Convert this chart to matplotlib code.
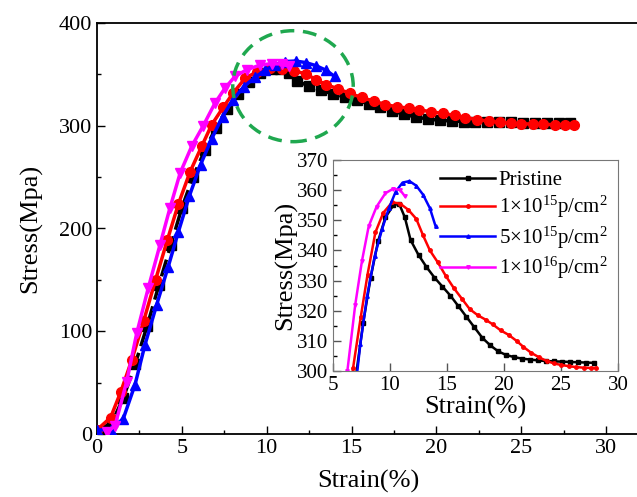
import numpy as np
import matplotlib
matplotlib.use("Agg")
import matplotlib.pyplot as plt
from matplotlib.patches import Ellipse
from matplotlib.ticker import MultipleLocator, AutoMinorLocator

plt.rcParams['font.family'] = ['Liberation Serif', 'DejaVu Serif']
plt.rcParams['mathtext.fontset'] = 'custom'
plt.rcParams['mathtext.rm'] = 'Liberation Serif'
plt.rcParams['mathtext.it'] = 'Liberation Serif:italic'

# stress-strain data (strain %, stress MPa)
pristine_x = [0.1, 0.9, 1.55, 2.25, 2.95, 3.65, 4.35, 5.0, 5.65, 6.35, 7.0, 7.65, 8.3,
              8.95, 9.6, 10.3, 10.8, 11.3, 11.8, 12.5, 13.2, 13.9, 14.6, 15.3, 16.0,
              16.7, 17.4, 18.1, 18.8, 19.5, 20.2, 20.9, 21.6, 22.3, 23.0, 23.7, 24.4,
              25.1, 25.8, 26.5, 27.2, 27.9]
pristine_y = [3, 12, 35, 68, 105, 145, 184, 220, 250, 276, 298, 316, 331,
              343, 351, 355, 355.5, 351, 343.5, 338.5, 334.5, 331, 328, 325, 321.5,
              318, 314.5, 311, 308.5, 306.5, 305.3, 304.6, 304.1, 303.8, 303.5, 303.3, 303.2,
              303.1, 303.0, 302.9, 302.8, 302.7]

d1e15_x = [0.0, 0.8, 1.4, 2.05, 2.75, 3.45, 4.15, 4.8, 5.48, 6.17, 6.76, 7.44, 8.03,
           8.72, 9.41, 10.2, 10.9, 11.6, 12.3, 12.9, 13.5, 14.2, 14.9, 15.6, 16.3,
           17.0, 17.7, 18.4, 19.0, 19.7, 20.4, 21.1, 21.7, 22.4, 23.1, 23.75, 24.4,
           25.0, 25.7, 26.3, 27.0, 27.6, 28.1]
d1e15_y = [4, 16, 41, 72, 110, 150, 189, 224, 255, 280, 301, 318, 332,
           346, 352.5, 356, 355.5, 353.5, 350.5, 345, 340, 336, 331.5, 327.5, 324,
           320.5, 318.5, 317, 315.5, 313.5, 312, 310, 308, 306, 304.5, 303.3, 302.5,
           302, 301.6, 301.3, 301.1, 301.0, 301.0]

d5e15_x = [0.0, 0.8, 1.55, 2.24, 2.83, 3.52, 4.2, 4.8, 5.45, 6.1, 6.75, 7.4, 8.0,
           8.65, 9.3, 9.9, 10.5, 11.1, 11.7, 12.3, 12.9, 13.5, 14.0]
d5e15_y = [4, 4, 15, 48, 87, 126, 163, 197, 232, 262, 287, 309, 325,
           338, 347, 354, 359.5, 362.5, 363, 361.5, 358.5, 354, 348]

d1e16_x = [0.6, 1.06, 1.75, 2.34, 3.02, 3.71, 4.3, 4.9, 5.58, 6.26, 6.95, 7.54, 8.13,
           8.82, 9.6, 10.3, 10.9, 11.3]
d1e16_y = [2, 8, 51, 98, 142, 184, 220, 254, 280, 300, 322, 336.5, 348,
           354.5, 359, 360.5, 360, 358]

labels = ['Pristine',
          r'1$\times$10$^{15}$p/cm$^{2}$',
          r'5$\times$10$^{15}$p/cm$^{2}$',
          r'1$\times$10$^{16}$p/cm$^{2}$']

series = [
    (pristine_x, pristine_y, 'black', 's', (0, (5, 2))),
    (d1e15_x, d1e15_y, 'red', 'o', '-'),
    (d5e15_x, d5e15_y, 'blue', '^', '-'),
    (d1e16_x, d1e16_y, 'magenta', 'v', '-'),
]


def style_ticks(ax, size):
    ax.tick_params(which='both', direction='in', labelsize=size)
    ax.tick_params(which='major', length=6, width=1)
    ax.tick_params(which='minor', length=3, width=1)


fig = plt.figure(figsize=(6.37, 4.97), dpi=100)

# main axes
ax = fig.add_axes([97/637, 63/497, 543/637, 411/497])
for x, y, c, m, ls in series:
    ax.plot(x, y, color=c, marker=m, linestyle=ls, linewidth=2.5,
            markersize=7.5 if m != 'o' else 7, zorder=3)

circle = Ellipse((11.55, 338.5), 7.1, 108, fill=False, edgecolor='#1fa84f',
                 linewidth=2.5, linestyle=(0, (4, 2.5)), zorder=5)
ax.add_patch(circle)

ax.set_xlim(0, 32)
ax.set_ylim(0, 400)
ax.xaxis.set_major_locator(MultipleLocator(5))
ax.xaxis.set_minor_locator(MultipleLocator(2.5))
ax.yaxis.set_major_locator(MultipleLocator(100))
ax.yaxis.set_minor_locator(MultipleLocator(50))
style_ticks(ax, 16)
ax.set_xlabel('Strain(%)', fontsize=19, labelpad=9)
ax.set_ylabel('Stress(Mpa)', fontsize=19, labelpad=12)
for s in ax.spines.values():
    s.set_linewidth(1.3)

# inset
axi = fig.add_axes([333/637, 126/497, 285/637, 211/497])
for (x, y, c, m, ls), lab in zip(series, labels):
    axi.plot(x, y, color=c, marker=m, linestyle='-', linewidth=1.8,
             markersize=2.5, label=lab)
axi.set_xlim(5, 30)
axi.set_ylim(300, 370)
axi.xaxis.set_major_locator(MultipleLocator(5))
axi.yaxis.set_major_locator(MultipleLocator(10))
axi.yaxis.set_minor_locator(AutoMinorLocator(2))
style_ticks(axi, 15)
axi.tick_params(colors='#555555', labelcolor='black')
for s in axi.spines.values():
    s.set_color('#777777')
axi.set_xlabel('Strain(%)', fontsize=19, labelpad=1)
axi.set_ylabel('Stress(Mpa)', fontsize=19, labelpad=0)
axi.legend(loc='upper right', frameon=False, fontsize=15, handlelength=2.6,
           handletextpad=0.2, labelspacing=0.2, borderaxespad=0.1)

fig.savefig('out.png', dpi=100)
